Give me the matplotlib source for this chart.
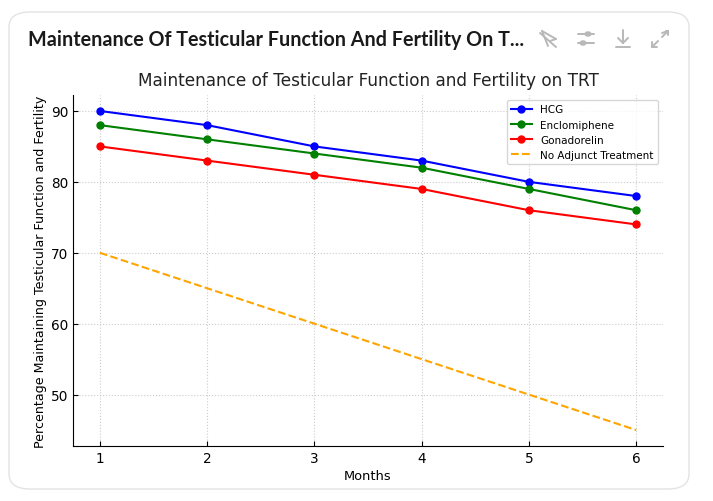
import matplotlib
matplotlib.use("Agg")
import matplotlib.pyplot as plt
from matplotlib.patches import FancyBboxPatch, Circle
from matplotlib.lines import Line2D

months = [1, 2, 3, 4, 5, 6]
hcg = [90, 88, 85, 83, 80, 78]
enclomiphene = [88, 86, 84, 82, 79, 76]
gonadorelin = [85, 83, 81, 79, 76, 74]
no_adjunct = [70, 65, 60, 55, 50, 45]

W, H = 713, 502
fig = plt.figure(figsize=(7.13, 5.02), dpi=100)


def px(x, y):
    # pixel coords (top-left origin) to figure fraction
    return x / W, 1 - y / H


def seg(x0, y0, x1, y1, lw=1.4):
    a = px(x0, y0)
    b = px(x1, y1)
    fig.add_artist(Line2D([a[0], b[0]], [a[1], b[1]], transform=fig.transFigure,
                          color="#b8b8b8", linewidth=lw, solid_capstyle="round"))


# card background with rounded border
card = FancyBboxPatch((9 / W, 12 / H), 680 / W, 477 / H,
                      boxstyle="round,pad=0,rounding_size=0.03",
                      transform=fig.transFigure, facecolor="white",
                      edgecolor="#e3e3e3", linewidth=1.0, zorder=-5)
fig.patches.append(card)
fig.text(28 / W, 1 - 40 / H, "Maintenance Of Testicular Function And Fertility On T...",
         fontsize=14.2, fontweight="bold", family=["Lato", "DejaVu Sans"],
         va="center", ha="left", color="#1a1a1a")

# header icons drawn as simple shapes
# cursor with slash
seg(542, 32, 548, 47)
seg(542, 32, 556, 40)
seg(556, 40, 550, 42)
seg(540, 34, 556, 48)
# sliders
seg(578, 35, 594, 35)
seg(578, 44, 594, 44)
for cx, cy in [(588, 35), (583, 44)]:
    c = px(cx, cy)
    fig.add_artist(Circle(c, 2.6 / W, transform=fig.transFigure, facecolor="white",
                          edgecolor="#b8b8b8", linewidth=1.3))
# download
seg(623, 31, 623, 44)
seg(618, 39, 623, 44)
seg(628, 39, 623, 44)
seg(616, 48, 630, 48)
# expand
seg(662, 34, 668, 32)
seg(666, 32, 668, 32)
seg(668, 32, 668, 36)
seg(662, 38, 668, 32)
seg(652, 48, 658, 42)
seg(652, 48, 652, 43)
seg(652, 48, 657, 48)

ax = fig.add_axes([73 / W, 1 - 447 / H, 590 / W, 351 / H])
ax.plot(months, hcg, marker="o", color="blue", label="HCG", markersize=5)
ax.plot(months, enclomiphene, marker="o", color="green", label="Enclomiphene", markersize=5)
ax.plot(months, gonadorelin, marker="o", color="red", label="Gonadorelin", markersize=5)
ax.plot(months, no_adjunct, linestyle="--", color="orange", label="No Adjunct Treatment")

ax.set_title("Maintenance of Testicular Function and Fertility on TRT", fontsize=12.2,
             color="#222222", pad=7)
ax.set_xlabel("Months", fontsize=9.4, labelpad=3)
ax.set_ylabel("Percentage Maintaining Testicular Function and Fertility", fontsize=9.1,
              labelpad=3)
ax.set_xticks(months)
ax.tick_params(labelsize=9.8, direction="in", length=3.5, pad=3.5)
ax.grid(True, linestyle=":", color="#cccccc", linewidth=0.8)
ax.spines["top"].set_visible(False)
ax.spines["right"].set_visible(False)
ax.legend(fontsize=7.5, loc="upper right")

fig.savefig("out.png", dpi=100)
